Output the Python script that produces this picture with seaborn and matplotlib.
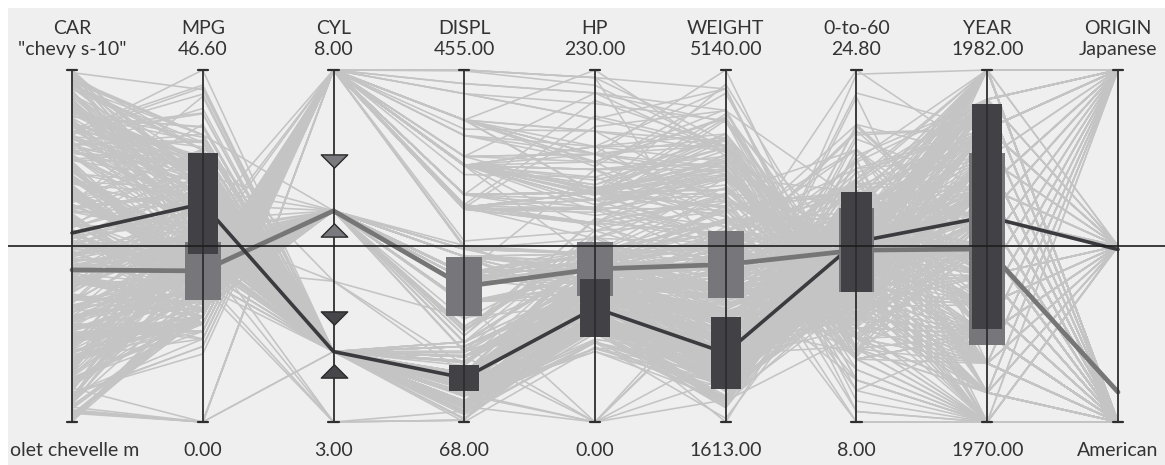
import numpy as np
import pandas as pd
import matplotlib
matplotlib.use("Agg")
import matplotlib.pyplot as plt
import seaborn as sns
from matplotlib.patches import Rectangle
from matplotlib.path import Path

# ---------------- data ----------------
AXES = ["CAR", "MPG", "CYL", "DISPL", "HP", "WEIGHT", "0-to-60", "YEAR", "ORIGIN"]
COLS = ["car", "mpg", "cyl", "displ", "hp", "weight", "accel", "year", "origin"]
ORIGINS = ["American", "European", "Japanese"]
ORIGIN_CODE = {"A": 0, "E": 1, "J": 2}
car_first = "chevrolet chevelle malibu"
car_last = "chevy s-10"

# rows per model year: (mpg, cyl, displ, hp, weight, accel, origin)
cars_1970 = [
    (18, 8, 307, 130, 3504, 12.0, "A"), (15, 8, 350, 165, 3693, 11.5, "A"), (18, 8, 318, 150, 3436, 11.0, "A"),
    (16, 8, 304, 150, 3433, 12.0, "A"), (17, 8, 302, 140, 3449, 10.5, "A"), (15, 8, 429, 198, 4341, 10.0, "A"),
    (14, 8, 454, 220, 4354, 9.0, "A"), (14, 8, 440, 215, 4312, 8.5, "A"), (14, 8, 455, 225, 4425, 10.0, "A"),
    (15, 8, 390, 190, 3850, 8.5, "A"), (0, 4, 133, 115, 3090, 17.5, "E"), (0, 8, 350, 165, 4142, 11.5, "A"),
    (0, 8, 351, 153, 4034, 11.0, "A"), (0, 8, 383, 175, 4166, 10.5, "A"), (0, 8, 360, 175, 3850, 11.0, "A"),
    (15, 8, 383, 170, 3563, 10.0, "A"), (14, 8, 340, 160, 3609, 8.0, "A"), (0, 8, 302, 140, 3353, 8.0, "A"),
    (15, 8, 400, 150, 3761, 9.5, "A"), (14, 8, 455, 225, 3086, 10.0, "A"), (24, 4, 113, 95, 2372, 15.0, "J"),
    (22, 6, 198, 95, 2833, 15.5, "A"), (18, 6, 199, 97, 2774, 15.5, "A"), (21, 6, 200, 85, 2587, 16.0, "A"),
    (27, 4, 97, 88, 2130, 14.5, "J"), (26, 4, 97, 46, 1835, 20.5, "E"), (25, 4, 110, 87, 2672, 17.5, "E"),
    (24, 4, 107, 90, 2430, 14.5, "E"), (25, 4, 104, 95, 2375, 17.5, "E"), (26, 4, 121, 113, 2234, 12.5, "E"),
    (21, 6, 199, 90, 2648, 15.0, "A"), (10, 8, 360, 215, 4615, 14.0, "A"), (10, 8, 307, 200, 4376, 15.0, "A"),
    (11, 8, 318, 210, 4382, 13.5, "A"), (9, 8, 304, 193, 4732, 18.5, "A"),
]
cars_1971 = [
    (27, 4, 97, 88, 2130, 14.5, "J"), (28, 4, 140, 90, 2264, 15.5, "A"), (25, 4, 113, 95, 2228, 14.0, "J"),
    (25, 4, 98, 0, 2046, 19.0, "A"), (0, 4, 97, 48, 1978, 20.0, "E"), (19, 6, 232, 100, 2634, 13.0, "A"),
    (16, 6, 225, 105, 3439, 15.5, "A"), (17, 6, 250, 100, 3329, 15.5, "A"), (19, 6, 250, 88, 3302, 15.5, "A"),
    (18, 6, 232, 100, 3288, 15.5, "A"), (14, 8, 350, 165, 4209, 12.0, "A"), (14, 8, 400, 175, 4464, 11.5, "A"),
    (14, 8, 351, 153, 4154, 13.5, "A"), (14, 8, 318, 150, 4096, 13.0, "A"), (12, 8, 383, 180, 4955, 11.5, "A"),
    (13, 8, 400, 170, 4746, 12.0, "A"), (13, 8, 400, 175, 5140, 12.0, "A"), (18, 6, 258, 110, 2962, 13.5, "A"),
    (22, 4, 140, 72, 2408, 19.0, "A"), (19, 6, 250, 100, 3282, 15.0, "A"), (18, 6, 250, 88, 3139, 14.5, "A"),
    (23, 4, 122, 86, 2220, 14.0, "A"), (28, 4, 116, 90, 2123, 14.0, "E"), (30, 4, 79, 70, 2074, 19.5, "E"),
    (30, 4, 88, 76, 2065, 14.5, "E"), (31, 4, 71, 65, 1773, 19.0, "J"), (35, 4, 72, 69, 1613, 18.0, "J"),
    (27, 4, 97, 60, 1834, 19.0, "E"), (26, 4, 91, 70, 1955, 20.5, "A"),
]
cars_1972 = [
    (24, 4, 113, 95, 2278, 15.5, "J"), (25, 4, 97.5, 80, 2126, 17.0, "A"), (23, 4, 97, 54, 2254, 23.5, "E"),
    (20, 4, 140, 90, 2408, 19.5, "A"), (21, 4, 122, 86, 2226, 16.5, "A"), (13, 8, 350, 165, 4274, 12.0, "A"),
    (14, 8, 400, 175, 4385, 12.0, "A"), (15, 8, 318, 150, 4135, 13.5, "A"), (14, 8, 351, 153, 4129, 13.0, "A"),
    (17, 8, 304, 150, 3672, 11.5, "A"), (11, 8, 429, 208, 4633, 11.0, "A"), (13, 8, 350, 155, 4502, 13.5, "A"),
    (12, 8, 350, 160, 4456, 13.5, "A"), (13, 8, 400, 190, 4422, 12.5, "A"), (19, 3, 70, 97, 2330, 13.5, "J"),
    (15, 8, 304, 150, 3892, 12.5, "A"), (13, 8, 307, 130, 4098, 14.0, "A"), (13, 8, 302, 140, 4294, 16.0, "A"),
    (14, 8, 318, 150, 4077, 14.0, "A"), (18, 4, 121, 112, 2933, 14.5, "E"), (22, 4, 121, 76, 2511, 18.0, "E"),
    (21, 4, 120, 87, 2979, 19.5, "E"), (26, 4, 96, 69, 2189, 18.0, "E"), (22, 4, 122, 86, 2395, 16.0, "A"),
    (28, 4, 97, 92, 2288, 17.0, "J"), (23, 4, 120, 97, 2506, 14.5, "J"), (28, 4, 98, 80, 2164, 15.0, "A"),
    (27, 4, 97, 88, 2100, 16.5, "J"),
]
cars_1973 = [
    (13, 8, 350, 175, 4100, 13.0, "A"), (14, 8, 304, 150, 3672, 11.5, "A"), (13, 8, 350, 145, 3988, 13.0, "A"),
    (14, 8, 302, 137, 4042, 14.5, "A"), (15, 8, 318, 150, 3777, 12.5, "A"), (12, 8, 429, 198, 4952, 11.5, "A"),
    (13, 8, 400, 150, 4464, 12.0, "A"), (13, 8, 351, 158, 4363, 13.0, "A"), (14, 8, 318, 150, 4237, 14.5, "A"),
    (13, 8, 440, 215, 4735, 11.0, "A"), (12, 8, 455, 225, 4951, 11.0, "A"), (13, 8, 360, 175, 3821, 11.0, "A"),
    (18, 6, 225, 105, 3121, 16.5, "A"), (16, 6, 250, 100, 3278, 18.0, "A"), (18, 6, 232, 100, 2945, 16.0, "A"),
    (18, 6, 250, 88, 3021, 16.5, "A"), (23, 6, 198, 95, 2904, 16.0, "A"), (26, 4, 97, 46, 1950, 21.0, "E"),
    (11, 8, 400, 150, 4997, 14.0, "A"), (12, 8, 400, 167, 4906, 12.5, "A"), (13, 8, 360, 170, 4654, 13.0, "A"),
    (12, 8, 350, 180, 4499, 12.5, "A"), (18, 6, 232, 100, 2789, 15.0, "A"), (20, 4, 97, 88, 2279, 19.0, "J"),
    (21, 4, 140, 72, 2401, 19.5, "A"), (22, 4, 108, 94, 2379, 16.5, "J"), (18, 3, 70, 90, 2124, 13.5, "J"),
    (19, 4, 122, 85, 2310, 18.5, "A"), (21, 6, 155, 107, 2472, 14.0, "A"), (26, 4, 98, 90, 2265, 15.5, "E"),
    (15, 8, 350, 145, 4082, 13.0, "A"), (16, 8, 400, 230, 4278, 9.5, "A"), (29, 4, 68, 49, 1867, 19.5, "E"),
    (24, 4, 116, 75, 2158, 15.5, "E"), (20, 4, 114, 91, 2582, 14.0, "E"), (19, 4, 121, 112, 2868, 15.5, "E"),
    (15, 8, 318, 150, 3399, 11.0, "A"), (24, 4, 121, 110, 2660, 14.0, "E"), (20, 6, 156, 122, 2807, 13.5, "J"),
    (11, 8, 350, 180, 3664, 11.0, "A"),
]
cars_1974 = [
    (20, 6, 198, 95, 3102, 16.5, "A"), (21, 6, 200, 0, 2875, 17.0, "A"), (19, 6, 232, 100, 2901, 16.0, "A"),
    (15, 6, 250, 100, 3336, 17.0, "A"), (31, 4, 79, 67, 1950, 19.0, "J"), (26, 4, 122, 80, 2451, 16.5, "A"),
    (32, 4, 71, 65, 1836, 21.0, "J"), (25, 4, 140, 75, 2542, 17.0, "A"), (16, 6, 250, 100, 3781, 17.0, "A"),
    (16, 6, 258, 110, 3632, 18.0, "A"), (18, 6, 225, 105, 3613, 16.5, "A"), (16, 8, 302, 140, 4141, 14.0, "A"),
    (13, 8, 350, 150, 4699, 14.5, "A"), (14, 8, 318, 150, 4457, 13.5, "A"), (14, 8, 302, 140, 4638, 16.0, "A"),
    (14, 8, 304, 150, 4257, 15.5, "A"), (29, 4, 98, 83, 2219, 16.5, "E"), (26, 4, 79, 67, 1963, 15.5, "E"),
    (26, 4, 97, 78, 2300, 14.5, "E"), (31, 4, 76, 52, 1649, 16.5, "J"), (32, 4, 83, 61, 2003, 19.0, "J"),
    (28, 4, 90, 75, 2125, 14.5, "A"), (24, 4, 90, 75, 2108, 15.5, "E"), (26, 4, 116, 75, 2246, 14.0, "E"),
    (24, 4, 120, 97, 2489, 15.0, "J"), (26, 4, 108, 93, 2391, 15.5, "J"), (31, 4, 79, 67, 2000, 16.0, "E"),
]
cars_1975 = [
    (19, 6, 225, 95, 3264, 16.0, "A"), (18, 6, 250, 105, 3459, 16.0, "A"), (15, 6, 250, 72, 3432, 21.0, "A"),
    (15, 6, 250, 72, 3158, 19.5, "A"), (16, 8, 400, 170, 4668, 11.5, "A"), (15, 8, 350, 145, 4440, 14.0, "A"),
    (16, 8, 318, 150, 4498, 14.5, "A"), (14, 8, 351, 148, 4657, 13.5, "A"), (17, 6, 231, 110, 3907, 21.0, "A"),
    (16, 6, 250, 105, 3897, 18.5, "A"), (15, 6, 258, 110, 3730, 19.0, "A"), (18, 6, 225, 95, 3785, 19.0, "A"),
    (21, 6, 231, 110, 3039, 15.0, "A"), (20, 8, 262, 110, 3221, 13.5, "A"), (13, 8, 302, 129, 3169, 12.0, "A"),
    (29, 4, 97, 75, 2171, 16.0, "J"), (23, 4, 140, 83, 2639, 17.0, "A"), (20, 6, 232, 100, 2914, 16.0, "A"),
    (23, 4, 140, 78, 2592, 18.5, "A"), (24, 4, 134, 96, 2702, 13.5, "J"), (25, 4, 90, 71, 2223, 16.5, "E"),
    (24, 4, 119, 97, 2545, 17.0, "J"), (18, 6, 171, 97, 2984, 14.5, "A"), (29, 4, 90, 70, 1937, 14.0, "E"),
    (19, 6, 232, 90, 3211, 17.0, "A"), (23, 4, 115, 95, 2694, 15.0, "E"), (23, 4, 120, 88, 2957, 17.0, "E"),
    (22, 4, 121, 98, 2945, 14.5, "E"), (25, 4, 121, 115, 2671, 13.5, "E"), (33, 4, 91, 53, 1795, 17.5, "J"),
]
cars_1976 = [
    (28, 4, 107, 86, 2464, 15.5, "E"), (25, 4, 116, 81, 2220, 16.9, "E"), (25, 4, 140, 92, 2572, 14.9, "A"),
    (26, 4, 98, 79, 2255, 17.7, "A"), (27, 4, 101, 83, 2202, 15.3, "E"), (17.5, 8, 305, 140, 4215, 13.0, "A"),
    (16, 8, 318, 150, 4190, 13.0, "A"), (15.5, 8, 304, 120, 3962, 13.9, "A"), (14.5, 8, 351, 152, 4215, 12.8, "A"),
    (22, 6, 225, 100, 3233, 15.4, "A"), (22, 6, 250, 105, 3353, 14.5, "A"), (24, 6, 200, 81, 3012, 17.6, "A"),
    (22.5, 6, 232, 90, 3085, 17.6, "A"), (29, 4, 85, 52, 2035, 22.2, "A"), (24.5, 4, 98, 60, 2164, 22.1, "A"),
    (29, 4, 90, 70, 1937, 14.2, "E"), (33, 4, 91, 53, 1795, 17.4, "J"), (20, 6, 225, 100, 3651, 17.7, "A"),
    (18, 6, 250, 78, 3574, 21.0, "A"), (18.5, 6, 250, 110, 3645, 16.2, "A"), (17.5, 6, 258, 95, 3193, 17.8, "A"),
    (29.5, 4, 97, 71, 1825, 12.2, "E"), (32, 4, 85, 70, 1990, 17.0, "J"), (28, 4, 97, 75, 2155, 16.4, "J"),
    (26.5, 4, 140, 72, 2565, 13.6, "A"), (20, 4, 130, 102, 3150, 15.7, "E"), (13, 8, 318, 150, 3940, 13.2, "A"),
    (19, 4, 120, 88, 3270, 21.9, "E"), (19, 6, 156, 108, 2930, 15.5, "J"), (16.5, 6, 168, 120, 3820, 16.7, "E"),
    (16.5, 8, 350, 180, 4380, 12.1, "A"), (13, 8, 350, 145, 4055, 12.0, "A"), (13, 8, 302, 130, 3870, 15.0, "A"),
    (13, 8, 318, 150, 3755, 14.0, "A"),
]
cars_1977 = [
    (31.5, 4, 98, 68, 2045, 18.5, "J"), (30, 4, 111, 80, 2155, 14.8, "A"), (36, 4, 79, 58, 1825, 18.6, "E"),
    (25.5, 4, 122, 96, 2300, 15.5, "A"), (33.5, 4, 85, 70, 1945, 16.8, "J"), (17.5, 8, 305, 145, 3880, 12.5, "A"),
    (17, 8, 260, 110, 4060, 19.0, "A"), (15.5, 8, 318, 145, 4140, 13.7, "A"), (15, 8, 302, 130, 4295, 14.9, "A"),
    (17.5, 6, 250, 110, 3520, 16.4, "A"), (20.5, 6, 231, 105, 3425, 16.9, "A"), (19, 6, 225, 100, 3630, 17.7, "A"),
    (18.5, 6, 250, 98, 3525, 19.0, "A"), (16, 8, 400, 180, 4220, 11.1, "A"), (15.5, 8, 350, 170, 4165, 11.4, "A"),
    (15.5, 8, 400, 190, 4325, 12.2, "A"), (16, 8, 351, 149, 4335, 14.5, "A"), (29, 4, 97, 78, 1940, 14.5, "E"),
    (24.5, 4, 151, 88, 2740, 16.0, "A"), (26, 4, 97, 75, 2265, 18.2, "J"), (25.5, 4, 140, 89, 2755, 15.8, "A"),
    (30.5, 4, 98, 63, 2051, 17.0, "A"), (33.5, 4, 98, 83, 2075, 15.9, "A"), (30, 4, 97, 67, 1985, 16.4, "J"),
    (30.5, 4, 97, 78, 2190, 14.1, "E"), (22, 6, 146, 97, 2815, 14.5, "J"), (21.5, 4, 121, 110, 2600, 12.8, "E"),
    (21.5, 3, 80, 110, 2720, 13.5, "J"),
]
cars_1978 = [
    (43.1, 4, 90, 48, 1985, 21.5, "E"), (36.1, 4, 98, 66, 1800, 14.4, "A"), (32.8, 4, 78, 52, 1985, 19.4, "J"),
    (39.4, 4, 85, 70, 2070, 18.6, "J"), (36.1, 4, 91, 60, 1800, 16.4, "J"), (19.9, 8, 260, 110, 3365, 15.5, "A"),
    (19.4, 8, 318, 140, 3735, 13.2, "A"), (20.2, 8, 302, 139, 3570, 12.8, "A"), (19.2, 6, 231, 105, 3535, 19.2, "A"),
    (20.5, 6, 200, 95, 3155, 18.2, "A"), (20.2, 6, 200, 85, 2965, 15.8, "A"), (25.1, 4, 140, 88, 2720, 15.4, "A"),
    (20.5, 6, 225, 100, 3430, 17.2, "A"), (19.4, 6, 232, 90, 3210, 17.2, "A"), (20.6, 6, 231, 105, 3380, 15.8, "A"),
    (20.8, 6, 200, 85, 3070, 16.7, "A"), (18.6, 6, 225, 110, 3620, 18.7, "A"), (18.1, 6, 258, 120, 3410, 15.1, "A"),
    (19.2, 8, 305, 145, 3425, 13.2, "A"), (17.7, 6, 231, 165, 3445, 13.4, "A"), (18.1, 8, 302, 139, 3205, 11.2, "A"),
    (17.5, 8, 318, 140, 4080, 13.7, "A"), (30, 4, 98, 68, 2155, 16.5, "A"), (27.5, 4, 134, 95, 2560, 14.2, "J"),
    (27.2, 4, 119, 97, 2300, 14.7, "J"), (30.9, 4, 105, 75, 2230, 14.5, "A"), (21.1, 4, 134, 95, 2515, 14.8, "J"),
    (23.2, 4, 156, 105, 2745, 16.7, "A"), (23.8, 4, 151, 85, 2855, 17.6, "A"), (23.9, 4, 119, 97, 2405, 14.9, "J"),
    (20.3, 5, 131, 103, 2830, 15.9, "E"), (17, 6, 163, 125, 3140, 13.6, "E"), (21.6, 4, 121, 115, 2795, 15.7, "E"),
    (16.2, 6, 163, 133, 3410, 15.8, "E"), (31.5, 4, 89, 71, 1990, 14.9, "E"), (29.5, 4, 98, 68, 2135, 16.6, "J"),
]
cars_1979 = [
    (21.5, 6, 231, 115, 3245, 15.4, "A"), (19.8, 6, 200, 85, 2990, 18.2, "A"), (22.3, 4, 140, 88, 2890, 17.3, "A"),
    (20.2, 6, 232, 90, 3265, 18.2, "A"), (20.6, 6, 225, 110, 3360, 16.6, "A"), (17, 8, 305, 130, 3840, 15.4, "A"),
    (17.6, 8, 302, 129, 3725, 13.4, "A"), (16.5, 8, 351, 138, 3955, 13.2, "A"), (18.2, 8, 318, 135, 3830, 15.2, "A"),
    (16.9, 8, 350, 155, 4360, 14.9, "A"), (15.5, 8, 351, 142, 4054, 14.3, "A"), (19.2, 8, 267, 125, 3605, 15.0, "A"),
    (18.5, 8, 360, 150, 3940, 13.0, "A"), (31.9, 4, 89, 71, 1925, 14.0, "E"), (34.1, 4, 86, 65, 1975, 15.2, "J"),
    (35.7, 4, 98, 80, 1915, 14.4, "A"), (27.4, 4, 121, 80, 2670, 15.0, "A"), (25.4, 5, 183, 77, 3530, 20.1, "E"),
    (23, 8, 350, 125, 3900, 17.4, "A"), (27.2, 4, 141, 71, 3190, 24.8, "E"), (23.9, 8, 260, 90, 3420, 22.2, "A"),
    (34.2, 4, 105, 70, 2200, 13.2, "A"), (34.5, 4, 105, 70, 2150, 14.9, "A"), (31.8, 4, 85, 65, 2020, 19.2, "J"),
    (37.3, 4, 91, 69, 2130, 14.7, "E"), (28.4, 4, 151, 90, 2670, 16.0, "A"), (28.8, 6, 173, 115, 2595, 11.3, "A"),
    (26.8, 6, 173, 115, 2700, 12.9, "A"), (33.5, 4, 151, 90, 2556, 13.2, "A"),
]
cars_1980 = [
    (41.5, 4, 98, 76, 2144, 14.7, "E"), (38.1, 4, 89, 60, 1968, 18.8, "J"), (32.1, 4, 98, 70, 2120, 15.5, "A"),
    (37.2, 4, 86, 65, 2019, 16.4, "J"), (28, 4, 151, 90, 2678, 16.5, "A"), (26.4, 4, 140, 88, 2870, 18.1, "A"),
    (24.3, 4, 151, 90, 3003, 20.1, "A"), (19.1, 6, 225, 90, 3381, 18.7, "A"), (34.3, 4, 97, 78, 2188, 15.8, "E"),
    (29.8, 4, 134, 90, 2711, 15.5, "J"), (31.3, 4, 120, 75, 2542, 17.5, "J"), (37, 4, 119, 92, 2434, 15.0, "J"),
    (32.2, 4, 108, 75, 2265, 15.2, "J"), (46.6, 4, 86, 65, 2110, 17.9, "J"), (27.9, 4, 156, 105, 2800, 14.4, "A"),
    (40.8, 4, 85, 65, 2110, 19.2, "J"), (44.3, 4, 90, 48, 2085, 21.7, "E"), (43.4, 4, 90, 48, 2335, 23.7, "E"),
    (36.4, 5, 121, 67, 2950, 19.9, "E"), (30, 4, 146, 67, 3250, 21.8, "E"), (44.6, 4, 91, 67, 1850, 13.8, "J"),
    (40.9, 4, 85, 0, 1835, 17.3, "E"), (33.8, 4, 97, 67, 2145, 18.0, "J"), (29.8, 4, 89, 62, 1845, 15.3, "E"),
    (32.7, 6, 168, 132, 2910, 11.4, "J"), (23.7, 3, 70, 100, 2420, 12.5, "J"), (35, 4, 122, 88, 2500, 15.1, "E"),
    (23.6, 4, 140, 0, 2905, 14.3, "A"), (32.4, 4, 107, 72, 2290, 17.0, "J"),
]
cars_1981 = [
    (27.2, 4, 135, 84, 2490, 15.7, "A"), (26.6, 4, 151, 84, 2635, 16.4, "A"), (25.8, 4, 156, 92, 2620, 14.4, "A"),
    (23.5, 6, 173, 110, 2725, 12.6, "A"), (30, 4, 135, 84, 2385, 12.9, "A"), (39.1, 4, 79, 58, 1755, 16.9, "J"),
    (39, 4, 86, 64, 1875, 16.4, "A"), (35.1, 4, 81, 60, 1760, 16.1, "J"), (32.3, 4, 97, 67, 2065, 17.8, "J"),
    (37, 4, 85, 65, 1975, 19.4, "J"), (37.7, 4, 89, 62, 2050, 17.3, "J"), (34.1, 4, 91, 68, 1985, 16.0, "J"),
    (34.7, 4, 105, 63, 2215, 14.9, "A"), (34.4, 4, 98, 65, 2045, 16.2, "A"), (29.9, 4, 98, 65, 2380, 20.7, "A"),
    (33, 4, 105, 74, 2190, 14.2, "E"), (34.5, 4, 100, 0, 2320, 15.8, "E"), (33.7, 4, 107, 75, 2210, 14.4, "J"),
    (32.4, 4, 108, 75, 2350, 16.8, "J"), (32.9, 4, 119, 100, 2615, 14.8, "J"), (31.6, 4, 120, 74, 2635, 18.3, "J"),
    (28.1, 4, 141, 80, 3230, 20.4, "E"), (30.7, 6, 145, 76, 3160, 19.6, "E"), (25.4, 6, 168, 116, 2900, 12.6, "J"),
    (24.2, 6, 146, 120, 2930, 13.8, "J"), (22.4, 6, 231, 110, 3415, 15.8, "A"), (26.6, 8, 350, 105, 3725, 19.0, "A"),
    (20.2, 6, 200, 88, 3060, 17.1, "A"), (17.6, 6, 225, 85, 3465, 16.6, "A"),
]
cars_1982 = [
    (28, 4, 112, 88, 2605, 19.6, "A"), (27, 4, 112, 88, 2640, 18.6, "A"), (34, 4, 112, 88, 2395, 18.0, "A"),
    (31, 4, 112, 85, 2575, 16.2, "A"), (29, 4, 135, 84, 2525, 16.0, "A"), (27, 4, 151, 90, 2735, 18.0, "A"),
    (24, 4, 140, 92, 2865, 16.4, "A"), (23, 4, 151, 0, 3035, 20.5, "A"), (36, 4, 105, 74, 1980, 15.3, "E"),
    (37, 4, 91, 68, 2025, 18.2, "J"), (31, 4, 91, 68, 1970, 17.6, "J"), (38, 4, 105, 63, 2125, 14.7, "A"),
    (36, 4, 98, 70, 2125, 17.3, "A"), (36, 4, 120, 88, 2160, 14.5, "J"), (36, 4, 107, 75, 2205, 14.5, "J"),
    (34, 4, 108, 70, 2245, 16.9, "J"), (38, 4, 91, 67, 1965, 15.0, "J"), (32, 4, 91, 67, 1965, 15.7, "J"),
    (38, 4, 91, 67, 1995, 16.2, "J"), (25, 6, 181, 110, 2945, 16.4, "A"), (38, 6, 262, 85, 3015, 17.0, "A"),
    (26, 4, 156, 92, 2585, 14.5, "A"), (22, 6, 232, 112, 2835, 14.7, "A"), (32, 4, 144, 96, 2665, 13.9, "J"),
    (36, 4, 135, 84, 2370, 13.0, "A"), (27, 4, 151, 90, 2950, 17.3, "A"), (27, 4, 140, 86, 2790, 15.6, "A"),
    (44, 4, 97, 52, 2130, 24.6, "E"), (32, 4, 135, 84, 2295, 11.6, "A"), (28, 4, 120, 79, 2625, 18.6, "A"),
    (31, 4, 119, 82, 2720, 19.4, "A"),
]
years = list(range(1970, 1983))
year_lists = [cars_1970, cars_1971, cars_1972, cars_1973, cars_1974, cars_1975, cars_1976,
              cars_1977, cars_1978, cars_1979, cars_1980, cars_1981, cars_1982]

# two highlighted clusters: centre and half-spread per axis (real units; car = rank 0..1)
dark_center = [0.537, 28.9, 4.0, 116.4, 74.5, 2304, 16.6, 1977.0, 0.98]
dark_spread = [None, 6.7, None, 14.3, 18.9, 356, 2.39, 3.84, None]
dark_cyl_marks = [4.47, 3.72]
mid_center = [0.432, 20.0, 6.0, 217.0, 100.0, 3191, 16.2, 1975.9, 0.17]
mid_spread = [None, 3.8, None, 32.4, 17.6, 336, 2.0, 3.26, None]
mid_cyl_marks = [6.71, 5.73]

# ---------------- build frames ----------------
records = []
for yr, lst in zip(years, year_lists):
    for r in lst:
        records.append(dict(mpg=r[0], cyl=r[1], displ=r[2], hp=r[3], weight=r[4],
                            accel=r[5], year=yr, origin=ORIGIN_CODE[r[6]]))
df = pd.DataFrame(records)
n = len(df)
df["car"] = np.arange(n)

lo = {c: df[c].min() for c in COLS}
hi = {c: df[c].max() for c in COLS}
lo["origin"], hi["origin"] = 0, 2


def norm(col, v):
    return (v - lo[col]) / (hi[col] - lo[col])


normed = pd.DataFrame({c: norm(c, df[c]) for c in COLS})
normed["id"] = np.arange(n)
long = normed.melt(id_vars="id", value_vars=COLS, var_name="col", value_name="y")
long["x"] = long["col"].map({c: i for i, c in enumerate(COLS)})


def cluster_norm(center):
    out = [center[0]]
    for c, v in zip(COLS[1:], center[1:]):
        out.append(norm(c, v))
    return out


# ---------------- drawing ----------------
sns.set_theme(style="white")
plt.rcParams["font.family"] = ["Lato", "DejaVu Sans"]

W, H = 1165, 465
fig = plt.figure(figsize=(W / 100, H / 100), dpi=100)
fig.patch.set_facecolor("white")
ax = fig.add_axes([8 / W, 0, 1 - 8 / W, (H - 8) / H])
ax.set_facecolor("#efefef")
for s in ax.spines.values():
    s.set_visible(False)
ax.set_xticks([])
ax.set_yticks([])
ax.set_xlim(-0.4895, 8.3595)
ax.set_ylim(-0.1222, 1.1761)

# background records
sns.lineplot(data=long, x="x", y="y", units="id", estimator=None, color="#c4c4c4",
             lw=1.15, ax=ax, legend=False, sort=False, zorder=1)

# cluster polylines
xs = np.arange(len(COLS))
mid_y = cluster_norm(mid_center)
dark_y = cluster_norm(dark_center)
sns.lineplot(x=xs, y=mid_y, color="#767676", lw=3.4, ax=ax, sort=False, zorder=3)
sns.lineplot(x=xs, y=dark_y, color="#3b3b3f", lw=2.6, ax=ax, sort=False, zorder=4)


def boxes(center, spread, width, color, z):
    for i, (c, cv, sv) in enumerate(zip(COLS, center, spread)):
        if sv is None:
            continue
        y0 = norm(c, cv - sv)
        y1 = norm(c, cv + sv)
        ax.add_patch(Rectangle((i - width / 2, y0), width, y1 - y0, facecolor=color,
                               edgecolor="none", zorder=z))


boxes(mid_center, mid_spread, 0.275, "#77777b", 5)
boxes(dark_center, dark_spread, 0.23, "#414146", 6)

# axes lines, caps, centre line
for i in xs:
    ax.plot([i, i], [0, 1], color="#2e2e2e", lw=1.3, zorder=7)
    ax.plot([i - 0.04, i + 0.04], [1, 1], color="#2e2e2e", lw=1.6, zorder=7)
    ax.plot([i - 0.04, i + 0.04], [0, 0], color="#2e2e2e", lw=1.6, zorder=7)
ax.axhline(0.5, color="#1e1e1e", lw=1.2, zorder=7)

# CYL range markers
down_tri = Path([(-1, 0.5), (1, 0.5), (0, -0.5), (-1, 0.5)], closed=True)
up_tri = Path([(-1, -0.5), (1, -0.5), (0, 0.5), (-1, -0.5)], closed=True)
cyl_i = COLS.index("cyl")
for marks, col in [(mid_cyl_marks, "#7a7a7e"), (dark_cyl_marks, "#46464b")]:
    ax.plot([cyl_i], [norm("cyl", marks[0])], marker=down_tri, ms=19, color=col,
            mec="#2a2a2a", mew=1.0, ls="none", zorder=8)
    ax.plot([cyl_i], [norm("cyl", marks[1])], marker=up_tri, ms=19, color=col,
            mec="#2a2a2a", mew=1.0, ls="none", zorder=8)

# labels
txt = dict(fontsize=14, color="#333333", zorder=9)


def fmt(v):
    return f"{v:.2f}"


top_vals = ['"' + car_last + '"'] + [fmt(hi[c]) for c in COLS[1:-1]] + [ORIGINS[-1]]
# the CAR minimum label is shown only partly in its column (visible part kept)
bot_vals = [car_first[5:20]] + [fmt(lo[c]) for c in COLS[1:-1]] + [ORIGINS[0]]
for i, (name, tv, bv) in enumerate(zip(AXES, top_vals, bot_vals)):
    ax.text(i, 1.118, name, ha="center", va="center", **txt)
    ax.text(i, 1.057, tv, ha="center", va="center", **txt)
    if i == 0:
        ax.text(-0.478, -0.08, bv, ha="left", va="center", **txt)
    else:
        ax.text(i, -0.08, bv, ha="center", va="center", **txt)

fig.savefig("out.png", dpi=100, facecolor="white")
